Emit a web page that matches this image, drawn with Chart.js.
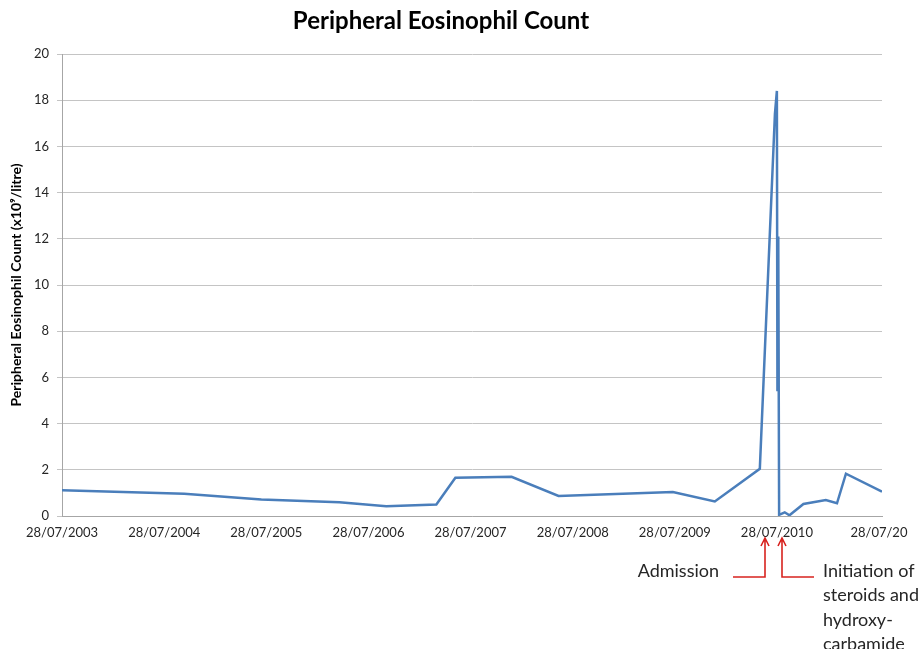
<!DOCTYPE html>
<html>
<head>
<meta charset="utf-8">
<script src="https://cdn.jsdelivr.net/npm/chart.js@4.4.1/dist/chart.umd.min.js"></script>
<style>
  body { margin: 0; background: #fff; }
  canvas { display: block; }
</style>
</head>
<body>
<canvas id="myChart" width="921" height="649"></canvas>
<script>
// sample dates and eosinophil counts (x10^9/litre)
const sampleDates = [
  "2003-07-28", "2004-10-07", "2005-07-10", "2006-04-15", "2006-09-30", "2007-03-28",
  "2007-06-04", "2007-12-22", "2008-06-07", "2009-07-21", "2009-12-18", "2010-05-28",
  "2010-07-21", "2010-07-28", "2010-07-30", "2010-08-02", "2010-08-05", "2010-08-25",
  "2010-09-11", "2010-10-31", "2011-01-19", "2011-02-28", "2011-04-01", "2011-08-08"
];
const eosinophils = [
  1.12, 0.96, 0.71, 0.6, 0.42, 0.5,
  1.66, 1.7, 0.87, 1.04, 0.63, 2.04,
  17.4, 18.4, 5.4, 12.1, 0.05, 0.16,
  0.03, 0.52, 0.69, 0.55, 1.83, 1.05
];

const tickDates = ["2003-07-28", "2004-07-28", "2005-07-28", "2006-07-28", "2007-07-28",
  "2008-07-28", "2009-07-28", "2010-07-28", "2011-07-28"];
const tickLabels = ["28/07/2003", "28/07/2004", "28/07/2005", "28/07/2006", "28/07/2007",
  "28/07/2008", "28/07/2009", "28/07/2010", "28/07/20"];
const axisEnd = "2011-08-08";

const admissionDate = "2010-06-14";
const initiationDate = "2010-08-14";
const initiationText = ["Initiation of", "steroids and", "hydroxy-", "carbamide"];

const FONT = "Lato, 'Open Sans', sans-serif";

// days since first tick
function dayNumber(s) {
  const p = s.split("-").map(Number);
  return (Date.UTC(p[0], p[1] - 1, p[2]) - Date.UTC(2003, 6, 28)) / 86400000;
}

const points = sampleDates.map((d, i) => ({ x: dayNumber(d), y: eosinophils[i] }));

const annotate = {
  id: "annotate",
  afterDraw(chart) {
    const ctx = chart.ctx;
    const xs = chart.scales.x;
    const ax = Math.round(xs.getPixelForValue(dayNumber(admissionDate)));
    const ix = Math.round(xs.getPixelForValue(dayNumber(initiationDate)));
    const tipY = 538, baseY = 577;

    ctx.save();
    ctx.strokeStyle = "#d8231f";
    ctx.lineWidth = 1.6;
    [[ax, ax - 32], [ix, ix + 32]].forEach(([x, tail]) => {
      ctx.beginPath();
      ctx.moveTo(tail, baseY);
      ctx.lineTo(x, baseY);
      ctx.lineTo(x, tipY);
      ctx.moveTo(x - 4, tipY + 8);
      ctx.lineTo(x, tipY);
      ctx.lineTo(x + 4, tipY + 8);
      ctx.stroke();
    });

    ctx.fillStyle = "#262626";
    ctx.font = "18px " + FONT;
    ctx.textBaseline = "middle";
    ctx.textAlign = "right";
    ctx.fillText("Admission", ax - 46, 571);
    ctx.textAlign = "left";
    initiationText.forEach((t, i) => ctx.fillText(t, ix + 41, 571 + i * 24.5));
    ctx.restore();
  }
};

new Chart("myChart", {
  type: "line",
  data: {
    datasets: [{
      data: points,
      borderColor: "#4a7ebb",
      borderWidth: 2.5,
      pointRadius: 0,
      tension: 0,
      fill: false
    }]
  },
  options: {
    responsive: false,
    devicePixelRatio: 1,
    animation: false,
    layout: { padding: { left: 0, right: 39, top: 0, bottom: 0 } },
    plugins: {
      legend: { display: false },
      tooltip: { enabled: false },
      title: {
        display: true,
        text: "Peripheral Eosinophil Count",
        color: "#000",
        font: { family: FONT, size: 24, weight: "bold" },
        padding: { top: 7, bottom: 18.2 }
      }
    },
    scales: {
      x: {
        type: "linear",
        min: 0,
        max: dayNumber(axisEnd),
        afterBuildTicks: s => { s.ticks = tickDates.map(d => ({ value: dayNumber(d) })); },
        afterFit: s => { s.height = 133; s.paddingLeft = 0; s.paddingRight = 0; },
        grid: { display: false, drawTicks: false },
        border: { display: true, color: "#a6a6a6", width: 1 },
        ticks: {
          autoSkip: false,
          maxRotation: 0,
          padding: 9,
          color: "#262626",
          font: { family: FONT, size: 13 },
          callback: (v, i) => tickLabels[i]
        }
      },
      y: {
        min: 0,
        max: 20,
        afterFit: s => { s.width = 62; },
        grid: { color: "#c4c4c4", tickLength: 5, drawTicks: true },
        border: { display: true, color: "#a6a6a6", width: 1 },
        ticks: {
          stepSize: 2,
          padding: 8,
          color: "#262626",
          font: { family: FONT, size: 13 }
        },
        title: {
          display: true,
          text: "Peripheral Eosinophil Count (x10⁹/litre)",
          color: "#000",
          font: { family: FONT, size: 14, weight: "bold" },
          padding: { top: 8, bottom: 0 }
        }
      }
    }
  },
  plugins: [annotate]
});
</script>
</body>
</html>
